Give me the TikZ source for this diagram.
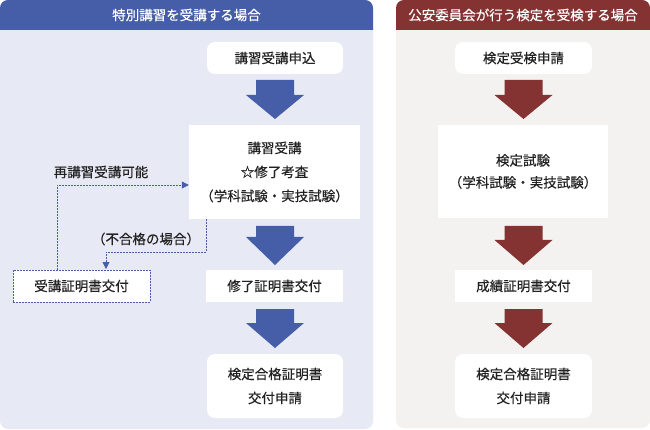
\documentclass[tikz,border=0pt]{standalone}
\usepackage{fontspec}
\newfontfamily\jp[FakeBold=0.3]{Noto Sans CJK JP}
\usetikzlibrary{arrows.meta}
\definecolor{bhdr}{HTML}{465DA8}
\definecolor{bbg}{HTML}{E7EAF4}
\definecolor{rhdr}{HTML}{843232}
\definecolor{rbg}{HTML}{F4F1F1}
\definecolor{txt}{HTML}{222222}
\tikzset{
  box/.style={fill=white, text=txt, align=center, inner sep=0pt, font=\jp\fontsize{13.5}{24}\selectfont},
  rbox/.style={box, rounded corners=8pt},
  dbox/.style={box, draw=bhdr, dash pattern=on 1.6pt off 1.4pt, line width=0.7pt},
  dline/.style={draw=bhdr, dash pattern=on 1.6pt off 1.4pt, line width=0.8pt},
  lbl/.style={text=txt, inner sep=0pt, font=\jp\fontsize{13.5}{15}\selectfont},
  hdrtext/.style={text=white, inner sep=0pt, font=\jp\fontsize{13.5}{15}\selectfont},
}
\newcommand{\blockarrow}[5]{% x, ytop, yhead, ytip, colour
  \fill[#5] (#1-19,#2) -- (#1+19,#2) -- (#1+19,#3) -- (#1+29,#3) -- (#1,#4) -- (#1-29,#3) -- (#1-19,#3) -- cycle;}
\begin{document}
\begin{tikzpicture}[x=1pt,y=-1pt]
\useasboundingbox (0,0) rectangle (650,430);
% left panel
\fill[bbg, rounded corners=8pt] (0,0) rectangle (373,429);
\fill[bhdr] (0,30) [rounded corners=8pt] -- (0,0) -- (373,0) [sharp corners] -- (373,30) -- cycle;
\node[hdrtext] (lh) at (186.5,15) {特別講習を受講する場合};
% right panel
\fill[rbg, rounded corners=8pt] (396,0) rectangle (650,428);
\fill[rhdr] (396,30) [rounded corners=8pt] -- (396,0) -- (650,0) [sharp corners] -- (650,30) -- cycle;
\node[hdrtext] (rh) at (523,15) {公安委員会が行う検定を受検する場合};
% left nodes
\node[rbox, minimum width=136pt, minimum height=32pt] (n1) at (275,58) {講習受講申込};
\node[box, minimum width=171pt, minimum height=94pt] (n2) at (274.5,172) {講習受講\\☆修了考査\\（学科試験・実技試験）};
\node[box, minimum width=137pt, minimum height=32pt] (n3) at (274.5,286) {修了証明書交付};
\node[rbox, minimum width=136pt, minimum height=64pt] (n4) at (275,386) {検定合格証明書\\交付申請};
\node[dbox, minimum width=137pt, minimum height=32pt] (nd) at (81.5,286) {受講証明書交付};
\blockarrow{275}{80}{95}{119}{bhdr}
\blockarrow{275}{226}{237}{265}{bhdr}
\blockarrow{275}{309}{323}{348}{bhdr}
% dotted feedback
\coordinate (c1) at (nd.north -| 57,0);
\coordinate (c2) at (206,0 |- n2.south);
\draw[dline, -{Triangle[width=7pt,length=7pt]}] (c1) -- (57,185) -- (n2.west |- 0,185);
\draw[dline, -{Triangle[width=7pt,length=7pt]}] (c2) -- (206,252) -- (106,252) -- (106,269);
\node[lbl] (l1) at (101,172) {再講習受講可能};
\node[lbl] (l2) at (146,239) {（不合格の場合）};
% right nodes
\node[rbox, minimum width=137pt, minimum height=32pt] (r1) at (523.5,58) {検定受検申請};
\node[box, minimum width=170pt, minimum height=93pt, font=\jp\fontsize{13.5}{22}\selectfont] (r2) at (523,171.5) {検定試験\\（学科試験・実技試験）};
\node[box, minimum width=137pt, minimum height=32pt] (r3) at (523.5,286) {成績証明書交付};
\node[rbox, minimum width=137pt, minimum height=64pt] (r4) at (523.5,386) {検定合格証明書\\交付申請};
\blockarrow{523.5}{80}{95}{119}{rhdr}
\blockarrow{523.5}{226}{240}{265}{rhdr}
\blockarrow{523.5}{309}{323}{348}{rhdr}
\end{tikzpicture}
\end{document}
